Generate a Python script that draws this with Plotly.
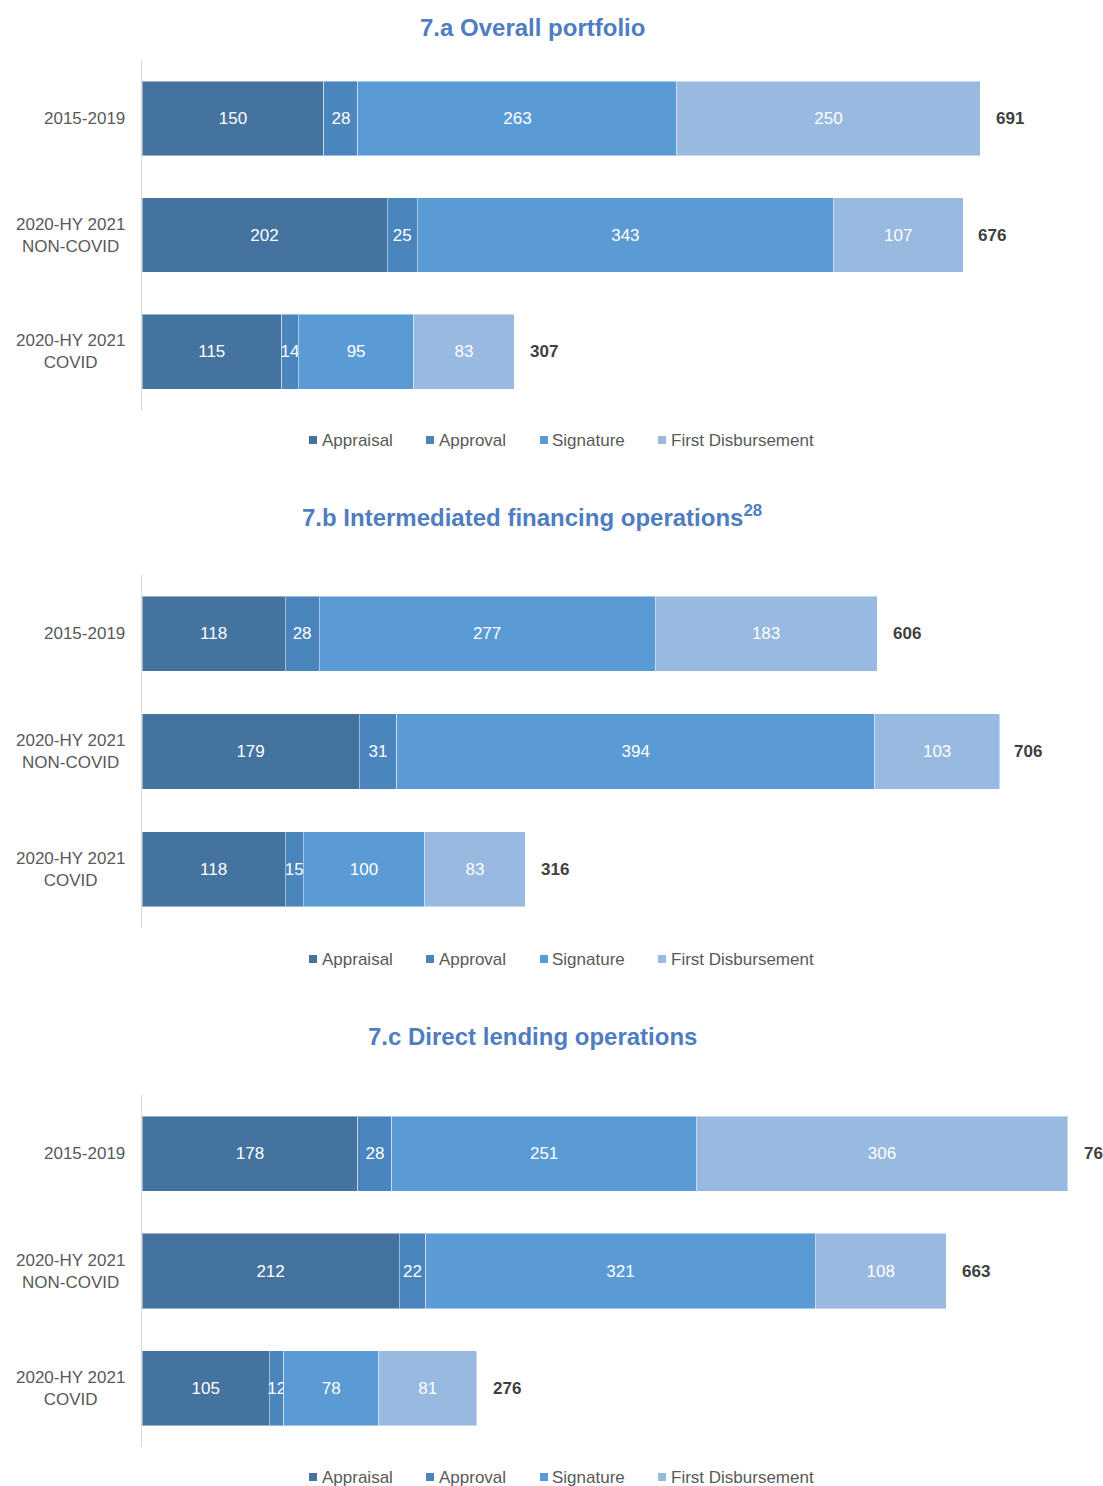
import plotly.graph_objects as go

# Time taken per stage, by period (days)
periods = ["2015-2019", "2020-HY 2021<br>NON-COVID", "2020-HY 2021<br>COVID"]
stages = ["Appraisal", "Approval", "Signature", "First Disbursement"]

overall_appraisal = [150, 202, 115]
overall_approval = [28, 25, 14]
overall_signature = [263, 343, 95]
overall_disbursement = [250, 107, 83]
overall_total = [691, 676, 307]

intermediated_appraisal = [118, 179, 118]
intermediated_approval = [28, 31, 15]
intermediated_signature = [277, 394, 100]
intermediated_disbursement = [183, 103, 83]
intermediated_total = [606, 706, 316]

direct_appraisal = [178, 212, 105]
direct_approval = [28, 22, 12]
direct_signature = [251, 321, 78]
direct_disbursement = [306, 108, 81]
direct_total = [763, 663, 276]

panel_titles = [
    "7.a Overall portfolio",
    "7.b Intermediated financing operations<sup>28</sup>",
    "7.c Direct lending operations",
]

colors = ["#43739E", "#4A85BD", "#5B9BD5", "#98B9E0"]
FONT = "Liberation Sans, Arial, sans-serif"
W, H = 1103, 1486

panels = [
    ([overall_appraisal, overall_approval, overall_signature, overall_disbursement], overall_total),
    ([intermediated_appraisal, intermediated_approval, intermediated_signature, intermediated_disbursement], intermediated_total),
    ([direct_appraisal, direct_approval, direct_signature, direct_disbursement], direct_total),
]

# pixel layout of each panel: (title y, plot top, plot bottom, legend y)
frames = [(28, 60, 410, 440), (516, 575, 928, 959), (1036, 1095, 1447, 1477)]

# legend key positions: (square left, text left)
legend_keys = [(309, 322), (426, 439), (540, 552), (658, 671)]


def py(px):
    return 1 - px / H


def pxx(px):
    return px / W


fig = go.Figure()
annotations = []
shapes = []
layout_axes = {}
x0_px = 142
px_per_unit = 1.213
x_max = (W - x0_px) / px_per_unit

for i, ((series, totals), (ty, top, bot, ly)) in enumerate(zip(panels, frames)):
    n = "" if i == 0 else str(i + 1)
    xa, ya = "x" + n, "y" + n
    for name, vals, col in zip(stages, series, colors):
        fig.add_trace(go.Bar(
            x=vals, y=periods, name=name, orientation="h",
            xaxis=xa, yaxis=ya, showlegend=False,
            marker=dict(color=col, line=dict(color="rgba(255,255,255,0.45)", width=1)),
            text=vals, textposition="inside", insidetextanchor="middle",
            textangle=0, constraintext="none",
            textfont=dict(color="white", size=17, family=FONT),
            width=0.64,
        ))
    for p, t in zip(periods, totals):
        annotations.append(dict(
            x=t, y=p, xref=xa, yref=ya, text=f"<b>{t}</b>", showarrow=False,
            xanchor="left", xshift=14, font=dict(size=17, color="#404040", family=FONT),
        ))
        annotations.append(dict(
            x=pxx(127), y=p, xref="paper", yref=ya, text=p, showarrow=False,
            xanchor="right", align="center",
            font=dict(size=17, color="#595959", family=FONT),
        ))
    annotations.append(dict(
        x=pxx(532), y=py(ty), xref="paper", yref="paper", text=f"<b>{panel_titles[i]}</b>",
        showarrow=False, xanchor="center", yanchor="middle",
        font=dict(size=24, color="#4F7DC1", family=FONT),
    ))
    # legend row: coloured key squares with stage names
    for name, col, (sx, tx) in zip(stages, colors, legend_keys):
        shapes.append(dict(
            type="rect", xref="paper", yref="paper",
            x0=pxx(sx), x1=pxx(sx + 8), y0=py(ly + 4), y1=py(ly - 4),
            fillcolor=col, line=dict(width=0),
        ))
        annotations.append(dict(
            x=pxx(tx - 2), y=py(ly), xref="paper", yref="paper", text=name,
            showarrow=False, xanchor="left", yanchor="middle",
            font=dict(size=17, color="#595959", family=FONT),
        ))
    layout_axes["xaxis" + n] = dict(
        domain=[x0_px / W, 1], range=[0, x_max], visible=False, anchor=ya,
    )
    layout_axes["yaxis" + n] = dict(
        domain=[py(bot), py(top)], anchor=xa, autorange="reversed",
        categoryorder="array", categoryarray=periods,
        showticklabels=False, ticks="", showgrid=False, zeroline=False,
        showline=True, linecolor="#D9D9D9", linewidth=1,
    )

fig.update_layout(
    width=W, height=H, barmode="stack", bargap=0.36, showlegend=False,
    margin=dict(l=0, r=0, t=0, b=0),
    paper_bgcolor="white", plot_bgcolor="white",
    font=dict(family=FONT),
    uniformtext=dict(minsize=17, mode="show"),
    annotations=annotations,
    shapes=shapes,
    **layout_axes,
)

fig.write_html("out.html")
